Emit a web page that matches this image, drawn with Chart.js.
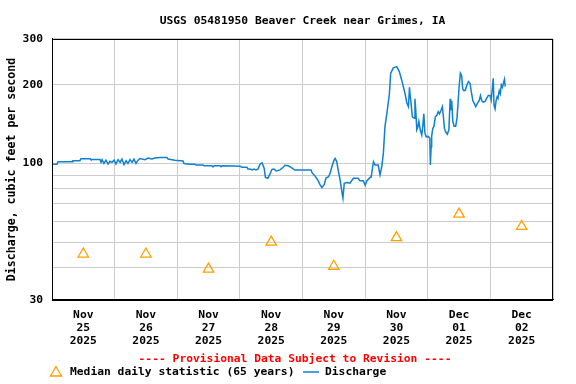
<!DOCTYPE html>
<html>
<head>
<meta charset="utf-8">
<script src="https://cdn.jsdelivr.net/npm/chart.js@4/dist/chart.umd.min.js"></script>
<style>
  html, body { margin: 0; padding: 0; background: #fff; }
  #wrap { width: 576px; height: 384px; }
</style>
</head>
<body>
<div id="wrap"><canvas id="c" width="576" height="384"></canvas></div>
<script>
// ---------------- DATA ----------------
const chartTitle = 'USGS 05481950 Beaver Creek near Grimes, IA';
const yAxisTitle = 'Discharge, cubic feet per second';
const provisionalNote = '---- Provisional Data Subject to Revision ----';
const medianLabel = 'Median daily statistic (65 years)';
const dischargeLabel = 'Discharge';

// day labels (one per day, centred at noon); hours counted from Nov 25 2025 00:00
const tickMonths = ['Nov', 'Nov', 'Nov', 'Nov', 'Nov', 'Nov', 'Dec', 'Dec'];
const tickDays   = ['25', '26', '27', '28', '29', '30', '01', '02'];
const tickYears  = ['2025', '2025', '2025', '2025', '2025', '2025', '2025', '2025'];

// median daily statistic, one per day
const medianDaily = [45, 45, 39.4, 50, 40.4, 52, 64, 57.4];

// y-axis labelled values and grid values
const yLabelValues = [30, 100, 200, 300];
const yGridValues = [30, 40, 50, 60, 70, 80, 90, 100, 200, 300];

// discharge (cfs) vs hours since Nov 25 00:00
const dischargeHours = [
  0, 1.9, 2.3, 7.7, 8.0, 10.7, 11.1, 14.6, 14.9, 18.4, 18.8, 19.2, 19.9, 20.7, 21.5, 22.2, 23.0, 23.8,
  24.5, 25.3, 26.1, 26.8, 27.6, 28.4, 29.1, 29.9, 30.7, 31.4, 32.2, 33.0, 33.7, 35.6, 36.8, 38.3, 39.5,
  41.4, 44.1, 44.5, 47.1, 50.2, 50.6, 52.9, 54.8, 55.2, 57.9, 58.3, 61.3, 61.7, 62.1, 64.4, 64.8, 65.2,
  70.1, 72.1, 72.8, 74.7, 75.1, 75.9, 76.7, 77.4, 78.2, 79.0, 79.7, 80.5, 81.3, 81.8, 82.7, 83.6, 84.3,
  85.1, 85.9, 87.4, 88.5, 89.3, 90.5, 91.6, 93.1, 98.1, 99.3, 99.7, 100.8, 102.0, 102.7, 103.4, 104.3,
  105.0, 106.0, 106.6, 107.3, 108.1, 108.5, 109.1, 109.7, 110.4, 111.1, 111.5, 112.0, 113.1, 114.2,
  115.5, 117.3, 118.0, 119.3, 120.0, 120.7, 121.9, 122.3, 123.2, 123.8, 125.0, 125.7, 126.4, 127.0,
  127.6, 128.5, 129.3, 129.8, 130.8, 132.1, 133.1, 134.0, 135.3, 136.0, 136.6, 137.0, 137.2, 137.6,
  138.1, 138.9, 139.1, 139.4, 139.8, 140.2, 140.6, 141.1, 141.7, 142.1, 142.5, 142.9, 143.4, 144.2,
  144.8, 145.0, 145.3, 145.5, 145.9, 146.4, 146.9, 147.5, 148.0, 148.5, 149.1, 149.6, 150.0, 150.4,
  150.9, 151.5, 152.1, 152.6, 152.8, 153.2, 153.6, 154.1, 154.7, 155.2, 155.6, 156.0, 156.5, 157.0,
  157.4, 157.9, 158.4, 159.0, 159.6, 160.2, 160.7, 161.3, 161.8, 162.4, 163.0, 163.7, 164.2, 164.7,
  165.3, 166.0, 166.6, 167.2, 167.9, 168.3, 168.8, 169.1, 169.4, 169.8, 170.2, 170.6, 170.9, 171.4,
  171.8, 172.2, 172.6, 173.0, 173.4, 173.7
];
const dischargeCfs = [
  99.3, 99.3, 101.5, 101.5, 102.5, 102.5, 104.3, 104.3, 103.5, 103.5, 101, 103.5, 100, 103, 99.5, 102, 101, 103,
  99.5, 103.5, 101, 104, 99, 102.5, 100, 103.5, 101, 104, 100, 103, 104.5, 103.5, 105, 104, 105,
  105.5, 105.5, 104, 103, 102.2, 100, 99.4, 99.4, 98.7, 98.7, 98, 98, 97, 98, 98, 97.2, 98,
  97.9, 97.6, 96.7, 96.7, 95.3, 95.3, 94.5, 95.3, 94.5, 95.3, 99.4, 100.5, 96, 88.5, 87.8, 91.5, 95,
  95.3, 93.6, 94.5, 96.5, 98.5, 98, 96.7, 94.4, 94.4, 94.4, 92, 89.5, 86, 83, 81, 83,
  88, 89, 92, 97.6, 103, 104.5, 102, 94, 86.5, 77.8, 73.7, 84, 84.5, 84,
  87.8, 87.8, 85.9, 85.9, 82.5, 86, 88.5, 88.5, 101.6, 98.7, 98.7, 90.5, 97.6, 109.8,
  138.5, 160, 185, 222, 232.5, 235, 225, 209, 185, 170.5, 165, 196, 185, 170,
  151, 149, 177, 160, 134.6, 138, 145, 134.6, 128.6, 139, 155, 131, 126.5, 127,
  125, 98.7, 116, 127, 136, 139, 151, 153, 158, 155, 160, 165, 151, 136,
  132, 129.5, 134.6, 177, 160, 174, 145, 139, 139, 149, 170, 196, 222, 217,
  193, 190, 191, 200, 206, 203, 188, 174, 170, 165, 170, 174, 182, 174,
  172, 173, 178, 182, 182, 175, 196, 212, 167, 162, 174, 180, 178, 190,
  185, 200, 196, 203, 210, 197
];

// ---------------- CHART ----------------
const FONT = 'DejaVu Sans Mono';
const LINE_COLOR = 'rgb(16,128,208)';
const TRI_COLOR = '#FFA000';
const GRID = '#cccccc';

const medianPoints = medianDaily.map((v, i) => ({ x: 24 * i + 12, y: v }));
const dischargePoints = dischargeHours.map((h, i) => ({ x: h, y: dischargeCfs[i] }));

const extrasPlugin = {
  id: 'extras',
  afterDraw(chart) {
    const ctx = chart.ctx;
    const a = chart.chartArea;
    ctx.save();
    // full black frame around plot
    ctx.strokeStyle = '#000';
    ctx.lineWidth = 1;
    ctx.strokeRect(Math.round(a.left) + 0.5, Math.round(a.top) + 0.5,
                   Math.round(a.right - a.left) - 1, Math.round(a.bottom - a.top));
    // provisional note
    ctx.font = 'bold 11.3px "' + FONT + '"';
    ctx.textBaseline = 'middle';
    ctx.textAlign = 'center';
    ctx.fillStyle = '#ff0000';
    ctx.fillText(provisionalNote, 295, 359);
    // legend
    const ly = 372.5;
    ctx.strokeStyle = TRI_COLOR;
    ctx.lineWidth = 1.3;
    ctx.beginPath();
    ctx.moveTo(56, 366.5);
    ctx.lineTo(61.5, 376);
    ctx.lineTo(50.5, 376);
    ctx.closePath();
    ctx.stroke();
    ctx.fillStyle = '#000';
    ctx.textAlign = 'left';
    ctx.fillText(medianLabel, 70, ly);
    ctx.strokeStyle = LINE_COLOR;
    ctx.lineWidth = 1.5;
    ctx.beginPath();
    ctx.moveTo(303, 372);
    ctx.lineTo(319, 372);
    ctx.stroke();
    ctx.fillText(dischargeLabel, 325, ly);
    ctx.restore();
  }
};

new Chart(document.getElementById('c'), {
  type: 'line',
  data: {
    datasets: [
      {
        label: dischargeLabel,
        data: dischargePoints,
        borderColor: LINE_COLOR,
        borderWidth: 1.5,
        pointRadius: 0,
        fill: false,
        tension: 0,
        order: 1
      },
      {
        label: medianLabel,
        data: medianPoints,
        showLine: false,
        pointStyle: 'triangle',
        pointRadius: 6,
        pointBorderWidth: 1.3,
        pointBorderColor: TRI_COLOR,
        pointBackgroundColor: 'rgba(0,0,0,0)',
        order: 2
      }
    ]
  },
  options: {
    responsive: false,
    animation: false,
    devicePixelRatio: 1,
    layout: { padding: { left: 0, right: 23, top: 0, bottom: 0 } },
    plugins: {
      legend: { display: false },
      tooltip: { enabled: false },
      title: {
        display: true,
        text: chartTitle,
        fullSize: false,
        color: '#000',
        font: { family: FONT, size: 11.3, weight: 'bold', lineHeight: 1.2 },
        padding: { top: 14, bottom: 11.4 }
      }
    },
    scales: {
      x: {
        type: 'linear',
        min: 0,
        max: 192,
        afterBuildTicks(scale) {
          const t = [];
          for (let v = 0; v <= 192; v += 12) t.push({ value: v });
          scale.ticks = t;
        },
        afterFit(scale) { scale.height = 84; },
        grid: {
          drawTicks: false,
          color: (c) => (c.tick && c.tick.value % 24 === 0) ? GRID : 'rgba(0,0,0,0)',
          lineWidth: 1
        },
        border: { display: true, color: '#000', width: 1 },
        ticks: {
          autoSkip: false,
          maxRotation: 0,
          minRotation: 0,
          padding: 9,
          color: '#000',
          font: { family: FONT, size: 11.3, weight: 'bold', lineHeight: 1.15 },
          callback(value) {
            if (value % 24 !== 12) return '';
            const i = (value - 12) / 24;
            return [tickMonths[i], tickDays[i], tickYears[i]];
          }
        }
      },
      y: {
        type: 'logarithmic',
        min: 30,
        max: 300,
        afterBuildTicks(scale) {
          scale.ticks = yGridValues.map(v => ({ value: v }));
        },
        afterFit(scale) { scale.width = 52; },
        grid: { drawTicks: false, color: GRID, lineWidth: 1 },
        border: { display: true, color: '#000', width: 1 },
        ticks: {
          padding: 9,
          color: '#000',
          font: { family: FONT, size: 11.3, weight: 'bold' },
          callback(value) {
            return yLabelValues.includes(value) ? String(value) : '';
          }
        },
        title: {
          display: true,
          text: yAxisTitle,
          color: '#000',
          font: { family: FONT, size: 11.6, weight: 'bold', lineHeight: 1.2 },
          padding: { top: 5, bottom: 0 }
        }
      }
    }
  },
  plugins: [extrasPlugin]
});
</script>
</body>
</html>
